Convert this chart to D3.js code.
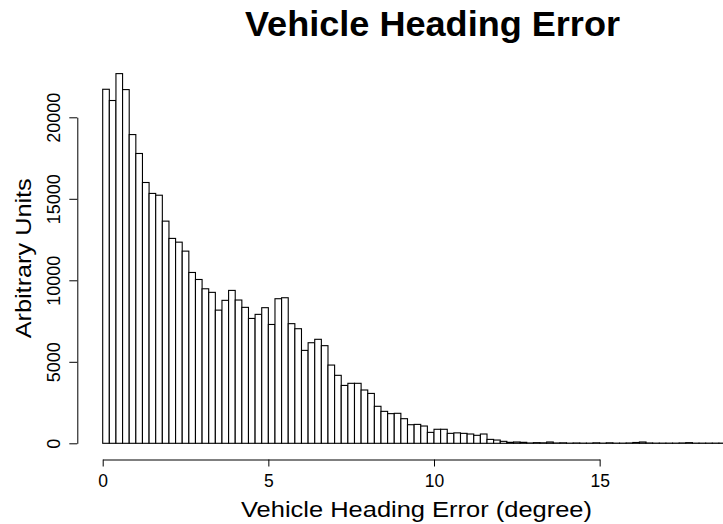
<!DOCTYPE html>
<html>
<head>
<meta charset="utf-8">
<script src="https://cdn.jsdelivr.net/npm/d3@7/dist/d3.min.js"></script>
<style>
  html, body { margin: 0; padding: 0; background: #fff; }
  svg { display: block; font-family: "Liberation Sans", Arial, Helvetica, sans-serif; }
</style>
</head>
<body>
<svg id="chart" width="723" height="524"></svg>
<script>
// Histogram of heading error, bins of 0.2 degree starting at 0
const binWidth = 0.2;
const counts = [
  21720, 21030, 22680, 21700, 18940, 17780, 16000, 15330, 15220, 13630,
  12570, 12340, 11790, 10480, 10050, 9480, 9260, 8170, 8770, 9380,
  8790, 8340, 7660, 7910, 8320, 7290, 8870, 8930, 7340, 7030,
  5700, 6170, 6380, 5990, 4800, 4170, 3550, 3680, 3680, 3270,
  3060, 2270, 1960, 1820, 1840, 1510, 1140, 1160, 1060, 670,
  860, 860, 610, 640, 610, 570, 490, 570, 240, 200,
  120, 60, 80, 60, 20, 40, 30, 80, 20, 30,
  10, 20, 10, 10, 30, 10, 30, 10, 10, 20,
  50, 80, 20, 10, 10, 10, 10, 20, 40, 10,
  10, 10, 10, 10, 10
];
const xTicks = [0, 5, 10, 15];
const yTicks = [0, 5000, 10000, 15000, 20000];

const titleText = "Vehicle Heading Error";
const xLabel = "Vehicle Heading Error (degree)";
const yLabel = "Arbitrary Units";

const svg = d3.select("#chart");

const x = d3.scaleLinear().domain([0, 15]).range([102.7, 102.7 + 15 * 33.13]);
const y = d3.scaleLinear().domain([0, 20000]).range([443.3, 117.3]);

// bars
svg.append("g")
  .selectAll("rect")
  .data(counts)
  .join("rect")
  .attr("x", (d, i) => x(i * binWidth))
  .attr("width", x(binWidth) - x(0))
  .attr("y", d => y(d))
  .attr("height", d => y(0) - y(d))
  .attr("fill", "#fff")
  .attr("stroke", "#000")
  .attr("stroke-width", 1.1);

// x axis
const xAxis = svg.append("g")
  .attr("transform", "translate(0,459.5)")
  .call(d3.axisBottom(x).tickValues(xTicks).tickSize(7).tickSizeOuter(0).tickFormat(d3.format("d")));
xAxis.selectAll("path, line").attr("stroke", "#000").attr("stroke-width", 1);
xAxis.selectAll("text")
  .attr("y", 27.8).attr("dy", null)
  .attr("fill", "#000")
  .style("font-size", "17.5px")
  .style("font-family", "'Liberation Sans', Arial, sans-serif");

// y axis
const yAxis = svg.append("g")
  .attr("transform", "translate(77.3,0)")
  .call(d3.axisLeft(y).tickValues(yTicks).tickSize(8).tickSizeOuter(0).tickFormat(d3.format("d")));
yAxis.selectAll("path, line").attr("stroke", "#000").attr("stroke-width", 1);
yAxis.selectAll("text")
  .attr("x", null).attr("dy", null)
  .attr("transform", "translate(-17.3,0) rotate(-90)")
  .attr("text-anchor", "middle")
  .attr("fill", "#000")
  .style("font-size", "18px")
  .style("font-family", "'Liberation Sans', Arial, sans-serif");

// titles
svg.append("text")
  .attr("x", 432.5).attr("y", 36)
  .attr("text-anchor", "middle")
  .style("font-size", "35px").style("font-weight", "bold")
  .attr("textLength", 375).attr("lengthAdjust", "spacingAndGlyphs")
  .text(titleText);

svg.append("text")
  .attr("x", 416.5).attr("y", 516.7)
  .attr("text-anchor", "middle")
  .style("font-size", "21.5px")
  .attr("textLength", 351).attr("lengthAdjust", "spacingAndGlyphs")
  .text(xLabel);

svg.append("text")
  .attr("transform", "translate(31,258.3) rotate(-90)")
  .attr("text-anchor", "middle")
  .style("font-size", "22px")
  .attr("textLength", 160).attr("lengthAdjust", "spacingAndGlyphs")
  .text(yLabel);
</script>
</body>
</html>
